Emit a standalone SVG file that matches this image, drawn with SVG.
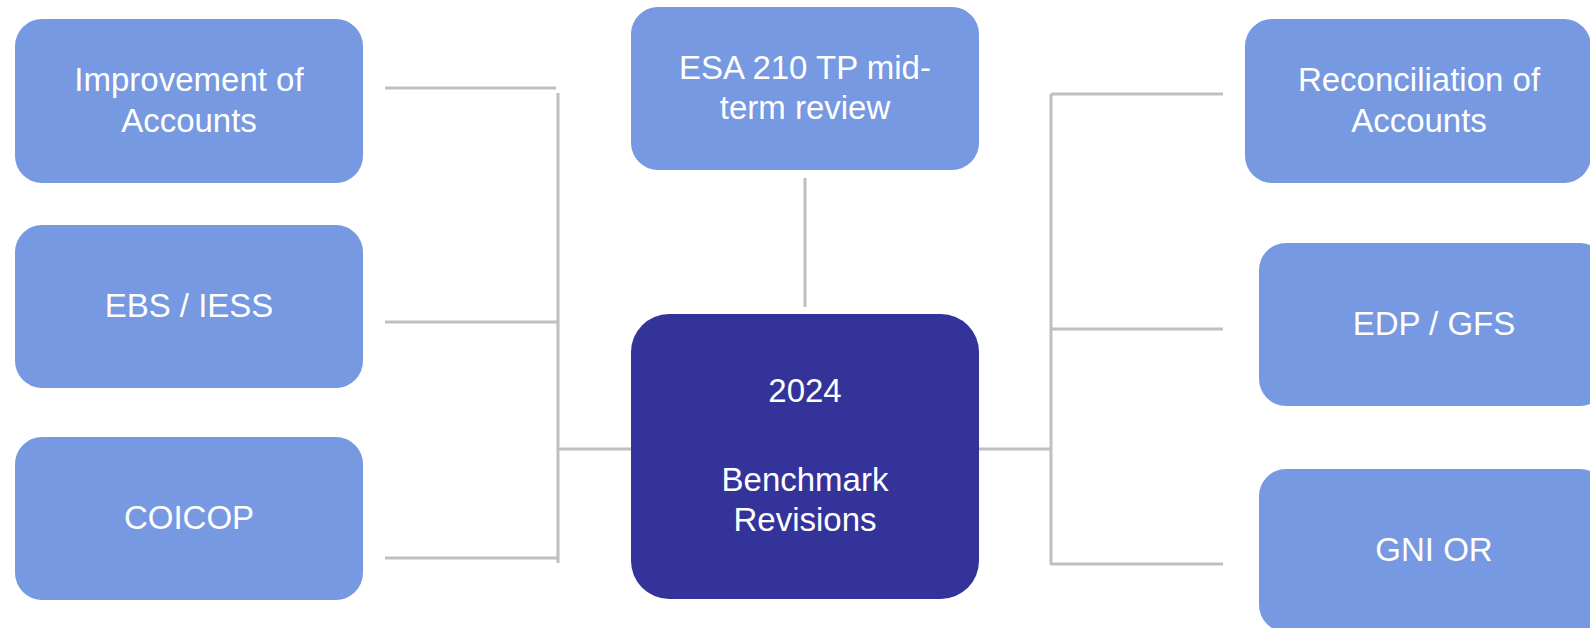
<svg xmlns="http://www.w3.org/2000/svg" width="1590" height="628" viewBox="0 0 1590 628">
<style>
.box{fill:#7699E1}
.main{fill:#343399}
.t{font-family:"Liberation Sans",Arial,sans-serif;fill:#ffffff;text-anchor:middle}
.s{font-size:33px}
.c{font-size:33px}
.ln{stroke:#BFBFBF;stroke-width:3;fill:none}
</style>
<rect width="1590" height="628" fill="#ffffff"/>
<g id="connectors">
<path class="ln" d="M385 88 H556 M558 93 V563 M385 322 H558 M385 558 H558 M558 449 H631"/>
<path class="ln" d="M805 178 V307"/>
<path class="ln" d="M979 449 H1051 M1051 94 V565 M1051 94 H1223 M1051 329 H1223 M1051 564 H1223"/>
</g>
<g id="node-improvement">
<rect class="box" x="15" y="19" width="348" height="164" rx="27"/>
<text class="t s" x="189" y="91">Improvement of</text>
<text class="t s" x="189" y="132">Accounts</text>
</g>
<g id="node-ebs">
<rect class="box" x="15" y="225" width="348" height="163" rx="27"/>
<text class="t s" x="189" y="317">EBS / IESS</text>
</g>
<g id="node-coicop">
<rect class="box" x="15" y="437" width="348" height="163" rx="27"/>
<text class="t s" x="189" y="529">COICOP</text>
</g>
<g id="node-esa">
<rect class="box" x="631" y="7" width="348" height="163" rx="27"/>
<text class="t c" x="805" y="79">ESA 210 TP mid-</text>
<text class="t c" x="805" y="119">term review</text>
</g>
<g id="node-benchmark">
<rect class="main" x="631" y="314" width="348" height="285" rx="38"/>
<text class="t c" x="805" y="402">2024</text>
<text class="t c" x="805" y="491">Benchmark</text>
<text class="t c" x="805" y="531">Revisions</text>
</g>
<g id="node-reconciliation">
<rect class="box" x="1245" y="19" width="346" height="164" rx="27"/>
<text class="t s" x="1419" y="91">Reconciliation of</text>
<text class="t s" x="1419" y="132">Accounts</text>
</g>
<g id="node-edp">
<rect class="box" x="1259" y="243" width="348" height="163" rx="27"/>
<text class="t s" x="1434" y="335">EDP / GFS</text>
</g>
<g id="node-gni">
<rect class="box" x="1259" y="469" width="348" height="163" rx="27"/>
<text class="t s" x="1434" y="561">GNI OR</text>
</g>
</svg>
